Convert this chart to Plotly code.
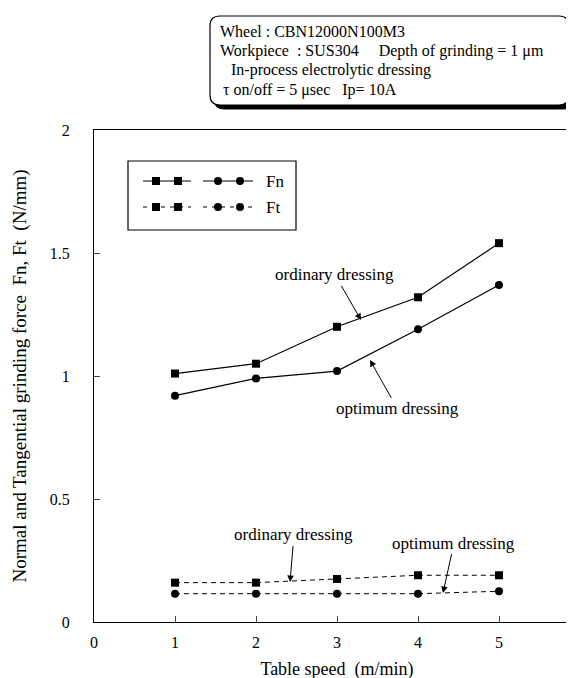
import plotly.graph_objects as go

# ---- data ----
table_speed = [1, 2, 3, 4, 5]
fn_ordinary = [1.01, 1.05, 1.20, 1.32, 1.54]
fn_optimum = [0.92, 0.99, 1.02, 1.19, 1.37]
ft_ordinary = [0.16, 0.16, 0.175, 0.19, 0.19]
ft_optimum = [0.115, 0.115, 0.115, 0.115, 0.125]
x_ticks = [0, 1, 2, 3, 4, 5, 6]
y_ticks = [0, 0.5, 1, 1.5, 2]
y_tick_labels = ["0", "0.5", "1", "1.5", "2"]

FONT = "Liberation Serif"
W, H = 574, 678
L, R, T, B = 86, 2, 122, 64
PW = W - L - R
PH = H - T - B


def px(x):
    return (x - L) / PW


def py(y):
    return (H - B - y) / PH


fig = go.Figure()

solid = dict(color="black", width=1.2)
dashed = dict(color="black", width=1, dash="5px,4px")
sq = dict(symbol="square", size=8, color="black")
ci = dict(symbol="circle", size=8, color="black")

fig.add_trace(go.Scatter(x=table_speed, y=fn_ordinary, mode="lines+markers",
                         line=solid, marker=sq, showlegend=False))
fig.add_trace(go.Scatter(x=table_speed, y=fn_optimum, mode="lines+markers",
                         line=solid, marker=ci, showlegend=False))
fig.add_trace(go.Scatter(x=table_speed, y=ft_ordinary, mode="lines+markers",
                         line=dashed, marker=sq, showlegend=False))
fig.add_trace(go.Scatter(x=table_speed, y=ft_optimum, mode="lines+markers",
                         line=dashed, marker=ci, showlegend=False))


# ---- custom legend on an overlay axis (pixel-like units) ----
def leg(xs, ys, mode, **kw):
    fig.add_trace(go.Scatter(x=xs, y=ys, mode=mode, xaxis="x2", yaxis="y2",
                             showlegend=False, hoverinfo="skip", **kw))


leg([135, 183], [173, 173], "lines", line=dict(color="black", width=1))
leg([148, 170], [173, 173], "markers", marker=sq)
leg([195, 245], [173, 173], "lines", line=dict(color="black", width=1))
leg([210, 232], [173, 173], "markers", marker=ci)
leg([135, 183], [199, 199], "lines", line=dict(color="black", width=1, dash="4px,5px"))
leg([148, 170], [199, 199], "markers", marker=sq)
leg([195, 245], [199, 199], "lines", line=dict(color="black", width=1, dash="4px,5px"))
leg([210, 232], [199, 199], "markers", marker=ci)

shapes = []
shapes.append(dict(type="rect", xref="paper", yref="paper",
                   x0=px(120), x1=px(288), y0=py(222), y1=py(153),
                   line=dict(color="black", width=1.2), fillcolor="rgba(0,0,0,0)"))


def rrect(x0, y0, x1, y1, r):
    X = px
    Y = py
    return (f"M {X(x0 + r)},{Y(y0)} L {X(x1 - r)},{Y(y0)} "
            f"Q {X(x1)},{Y(y0)} {X(x1)},{Y(y0 + r)} L {X(x1)},{Y(y1 - r)} "
            f"Q {X(x1)},{Y(y1)} {X(x1 - r)},{Y(y1)} L {X(x0 + r)},{Y(y1)} "
            f"Q {X(x0)},{Y(y1)} {X(x0)},{Y(y1 - r)} L {X(x0)},{Y(y0 + r)} "
            f"Q {X(x0)},{Y(y0)} {X(x0 + r)},{Y(y0)} Z")


shapes.append(dict(type="path", xref="paper", yref="paper",
                   path=rrect(206, 12, 566, 101, 10), fillcolor="black",
                   line=dict(color="black", width=1)))
shapes.append(dict(type="path", xref="paper", yref="paper",
                   path=rrect(202, 8, 561, 97, 10), fillcolor="white",
                   line=dict(color="black", width=1.2)))

annotations = []
info_font = dict(family=FONT, size=16, color="black")
info_lines = [
    (210, 23, "Wheel : CBN12000N100M3"),
    (210, 43, "Workpiece  : SUS304     Depth of grinding = 1 μm"),
    (221, 62, "In-process electrolytic dressing"),
    (213, 82, "τ on/off = 5 μsec   Ip= 10A"),
]
for x, y, t in info_lines:
    annotations.append(dict(xref="paper", yref="paper", x=px(x), y=py(y), text=t,
                            showarrow=False, xanchor="left", yanchor="middle",
                            font=info_font))

for yy, t in [(173, "Fn"), (199, "Ft")]:
    annotations.append(dict(xref="paper", yref="paper", x=px(256), y=py(yy), text=t,
                            showarrow=False, xanchor="left", yanchor="middle",
                            font=dict(family=FONT, size=17, color="black")))

lab_font = dict(family=FONT, size=17, color="black")
arrow_kw = dict(showarrow=True, arrowhead=2, arrowsize=1.3, arrowwidth=1,
                arrowcolor="black", axref="x", ayref="y", xref="x", yref="y",
                font=lab_font)
annotations.append(dict(x=3.296, y=1.228, ax=2.975, ay=1.411,
                        text="ordinary dressing", **arrow_kw))
annotations.append(dict(x=3.407, y=1.065, ax=3.747, ay=0.866,
                        text="optimum dressing", **arrow_kw))
annotations.append(dict(x=2.42, y=0.163, ax=2.469, ay=0.354,
                        text="ordinary dressing", **arrow_kw))
annotations.append(dict(x=4.309, y=0.118, ax=4.444, ay=0.321,
                        text="optimum dressing", **arrow_kw))

fig.update_layout(
    width=W, height=H,
    margin=dict(l=L, r=R, t=T, b=B, pad=0, autoexpand=False),
    paper_bgcolor="white", plot_bgcolor="white",
    font=dict(family=FONT, size=16, color="black"),
    shapes=shapes, annotations=annotations,
    xaxis=dict(range=[0, 6], tickvals=x_ticks, ticks="inside", ticklen=6,
               showline=True, linecolor="black", linewidth=1.2, mirror=True,
               showgrid=False, zeroline=False, automargin=False,
               ticklabelstandoff=6, ticklabeloverflow="allow",
               title=dict(text="Table speed  (m/min)", standoff=12,
                          font=dict(family=FONT, size=18)),
               tickfont=dict(family=FONT, size=16)),
    yaxis=dict(range=[0, 2], tickvals=y_ticks, ticktext=y_tick_labels,
               ticks="inside", ticklen=6,
               showline=True, linecolor="black", linewidth=1.2, mirror=True,
               showgrid=False, zeroline=False, automargin=False,
               ticklabelstandoff=20,
               title=dict(text="Normal and Tangential grinding force  Fn, Ft  (N/mm)",
                          standoff=18, font=dict(family=FONT, size=19)),
               tickfont=dict(family=FONT, size=16)),
    xaxis2=dict(domain=[px(120), px(288)], range=[120, 288], visible=False,
                anchor="y2", fixedrange=True),
    yaxis2=dict(domain=[py(222), py(153)], range=[222, 153], visible=False,
                anchor="x2", fixedrange=True),
)

fig.write_html("out.html")
